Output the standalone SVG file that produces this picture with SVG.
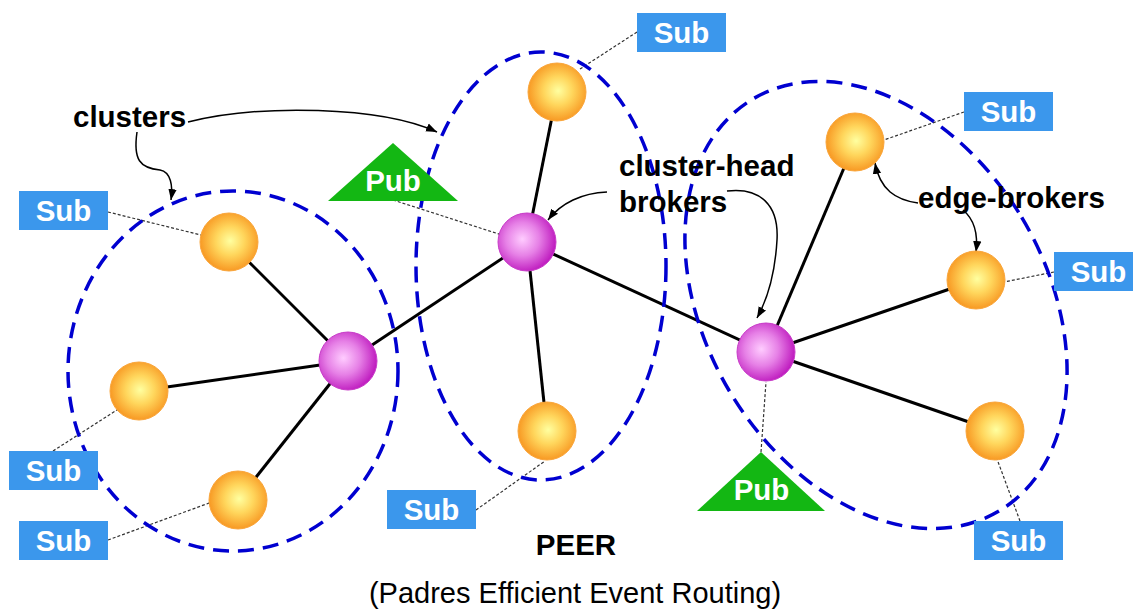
<svg xmlns="http://www.w3.org/2000/svg" width="1133" height="613" viewBox="0 0 1133 613">
  <style>
    .cluster { fill: none; stroke: #0000d0; stroke-width: 3.5; stroke-dasharray: 16 9; }
    .edge { stroke: #000; stroke-width: 3; fill: none; }
    .link { stroke: #333; stroke-width: 1.2; stroke-dasharray: 3 2; fill: none; }
    .pointer { stroke: #000; stroke-width: 1.5; fill: none; marker-end: url(#tip); }
    .sub rect { fill: #3b97ec; }
    .pub polygon { fill: #13b713; }
    .badge { font-family: "Liberation Sans", Arial, sans-serif; font-weight: bold; font-size: 29.5px; fill: #fff; text-anchor: middle; }
    .label { font-family: "Liberation Sans", Arial, sans-serif; font-weight: bold; font-size: 29.5px; fill: #000; }
    .caption { font-family: "Liberation Sans", Arial, sans-serif; font-size: 29px; fill: #000; text-anchor: middle; }
    .edgeBroker { fill: url(#orangeBall); stroke: #f9a53a; stroke-width: 1; }
    .headBroker { fill: url(#purpleBall); stroke: #c83cc8; stroke-width: 1; }
  </style>
  <defs>
    <radialGradient id="orangeBall" cx="52%" cy="48%" r="55%">
      <stop offset="0" stop-color="#ffffa0"/>
      <stop offset="0.45" stop-color="#ffd65c"/>
      <stop offset="1" stop-color="#f7931e"/>
    </radialGradient>
    <radialGradient id="purpleBall" cx="42%" cy="45%" r="58%">
      <stop offset="0" stop-color="#ffccff"/>
      <stop offset="0.5" stop-color="#e680e6"/>
      <stop offset="1" stop-color="#bf1cbf"/>
    </radialGradient>
    <marker id="tip" markerUnits="userSpaceOnUse" markerWidth="12" markerHeight="10" refX="11" refY="5" orient="auto">
      <path d="M0,0.8 L11,5 L0,9.2 Z" fill="#000"/>
    </marker>
  </defs>

  <rect width="1133" height="613" fill="#fff"/>

  <!-- broker links, subscriber/publisher attachments and callout arrows -->
  <g id="connectors">
    <line class="edge" x1="348" y1="361" x2="229" y2="242"/>
    <line class="edge" x1="348" y1="361" x2="139" y2="391"/>
    <line class="edge" x1="348" y1="361" x2="238" y2="500"/>
    <line class="edge" x1="348" y1="361" x2="527" y2="242"/>
    <line class="edge" x1="527" y1="242" x2="557" y2="92"/>
    <line class="edge" x1="527" y1="242" x2="547" y2="431"/>
    <line class="edge" x1="527" y1="242" x2="766" y2="352"/>
    <line class="edge" x1="766" y1="352" x2="855" y2="142"/>
    <line class="edge" x1="766" y1="352" x2="976" y2="280"/>
    <line class="edge" x1="766" y1="352" x2="995" y2="431"/>

    <line class="link" x1="108" y1="212" x2="205" y2="236"/>
    <line class="link" x1="637" y1="32" x2="580" y2="69"/>
    <line class="link" x1="393" y1="200" x2="505" y2="236"/>
    <line class="link" x1="53" y1="451" x2="120" y2="408"/>
    <line class="link" x1="108" y1="540" x2="212" y2="502"/>
    <line class="link" x1="476" y1="510" x2="545" y2="461"/>
    <line class="link" x1="761" y1="452" x2="766" y2="382"/>
    <line class="link" x1="964" y1="112" x2="884" y2="140"/>
    <line class="link" x1="1054" y1="272" x2="1004" y2="282"/>
    <line class="link" x1="1020" y1="521" x2="997" y2="459"/>

    <path class="pointer" d="M188,122 C260,104 380,106 437,132"/>
    <path class="pointer" d="M137,132 C133,160 140,168 160,170 C171,172 173,186 171,200"/>
    <path class="pointer" d="M607,192 C582,193 561,203 548,220"/>
    <path class="pointer" d="M727,191 C760,187 779,205 777,240 C775,275 767,300 757,318"/>
    <path class="pointer" d="M918,203 C896,200 880,190 875,163"/>
    <path class="pointer" d="M963,210 C975,220 978,235 976,252"/>
  </g>

  <!-- broker clusters -->
  <g id="cluster-groups">
    <ellipse id="cluster-left" class="cluster" cx="233" cy="371" rx="165" ry="180"/>
    <ellipse id="cluster-middle" class="cluster" cx="541" cy="266" rx="125" ry="214"/>
    <ellipse id="cluster-right" class="cluster" cx="876" cy="305" rx="170" ry="240" transform="rotate(-31 876 305)"/>
  </g>

  <!-- edge brokers -->
  <g id="eb-left-top"><circle class="edgeBroker" cx="229" cy="242" r="29"/></g>
  <g id="eb-left-mid"><circle class="edgeBroker" cx="139" cy="391" r="29"/></g>
  <g id="eb-left-bottom"><circle class="edgeBroker" cx="238" cy="500" r="29"/></g>
  <g id="eb-middle-top"><circle class="edgeBroker" cx="557" cy="92" r="29"/></g>
  <g id="eb-middle-bottom"><circle class="edgeBroker" cx="547" cy="431" r="29"/></g>
  <g id="eb-right-top"><circle class="edgeBroker" cx="855" cy="142" r="29"/></g>
  <g id="eb-right-mid"><circle class="edgeBroker" cx="976" cy="280" r="29"/></g>
  <g id="eb-right-bottom"><circle class="edgeBroker" cx="995" cy="431" r="29"/></g>

  <!-- cluster-head brokers -->
  <g id="ch-left"><circle class="headBroker" cx="348" cy="361" r="29"/></g>
  <g id="ch-middle"><circle class="headBroker" cx="527" cy="242" r="29"/></g>
  <g id="ch-right"><circle class="headBroker" cx="766" cy="352" r="29"/></g>

  <!-- subscribers -->
  <g id="sub-top" class="sub"><rect x="637" y="13" width="89" height="39"/><text class="badge" x="681.5" y="43">Sub</text></g>
  <g id="sub-left-top" class="sub"><rect x="19" y="191" width="89" height="39"/><text class="badge" x="63.5" y="221">Sub</text></g>
  <g id="sub-left-mid" class="sub"><rect x="9" y="451" width="89" height="39"/><text class="badge" x="53.5" y="481">Sub</text></g>
  <g id="sub-left-bottom" class="sub"><rect x="19" y="521" width="89" height="39"/><text class="badge" x="63.5" y="551">Sub</text></g>
  <g id="sub-middle-bottom" class="sub"><rect x="387" y="490" width="89" height="39"/><text class="badge" x="431.5" y="520">Sub</text></g>
  <g id="sub-right-top" class="sub"><rect x="964" y="92" width="89" height="39"/><text class="badge" x="1008.5" y="122">Sub</text></g>
  <g id="sub-right-mid" class="sub"><rect x="1054" y="252" width="89" height="39"/><text class="badge" x="1098.5" y="282">Sub</text></g>
  <g id="sub-right-bottom" class="sub"><rect x="974" y="521" width="89" height="39"/><text class="badge" x="1018.5" y="551">Sub</text></g>

  <!-- publishers -->
  <g id="pub-left" class="pub"><polygon points="393,143 458,201 328,201"/><text class="badge" x="393" y="191">Pub</text></g>
  <g id="pub-right" class="pub"><polygon points="761,452 825,511 697,511"/><text class="badge" x="761.5" y="500">Pub</text></g>

  <!-- annotations -->
  <g id="label-clusters"><text class="label" x="73" y="127">clusters</text></g>
  <g id="label-cluster-head"><text class="label" x="619" y="176">cluster-head</text><text class="label" x="619" y="212">brokers</text></g>
  <g id="label-edge-brokers"><text class="label" x="918" y="208">edge-brokers</text></g>
  <g id="title">
    <text class="label" x="576" y="555" text-anchor="middle" font-size="28.5">PEER</text>
    <text class="caption" x="575" y="603">(Padres Efficient Event Routing)</text>
  </g>
</svg>
